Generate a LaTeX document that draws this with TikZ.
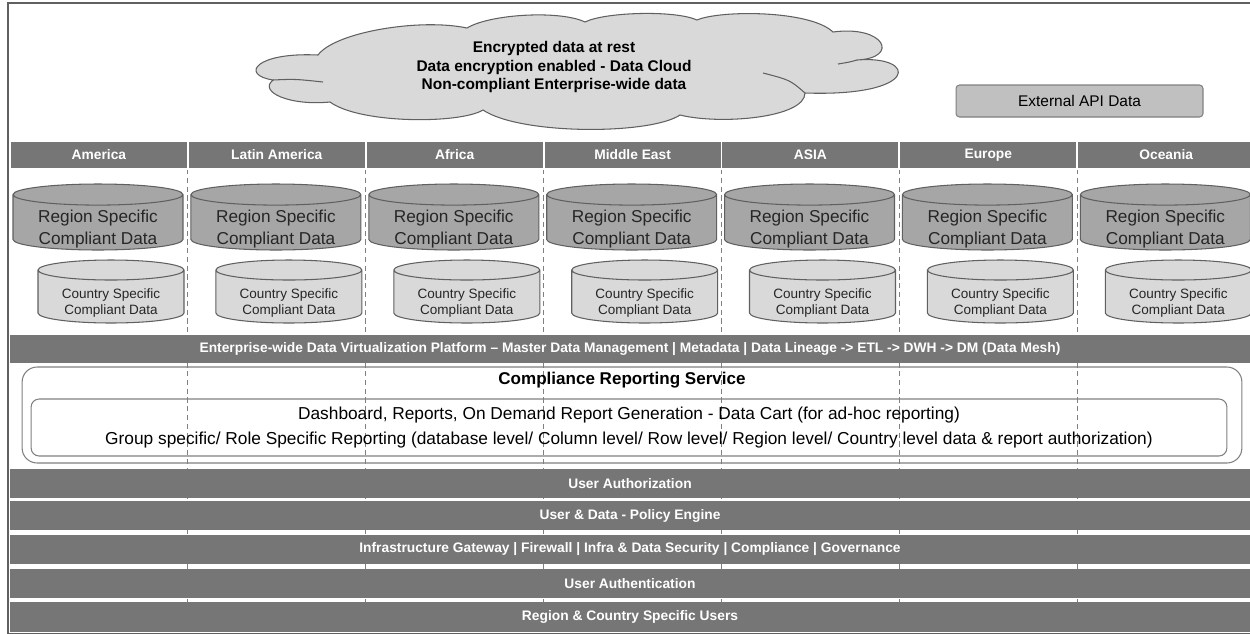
\documentclass[tikz,border=0pt]{standalone}
\usepackage{fontspec}
\setmainfont{Liberation Sans}
\usetikzlibrary{shapes.geometric}
\definecolor{bargray}{HTML}{767676}
\definecolor{reggray}{HTML}{A6A6A6}
\definecolor{ctrygray}{HTML}{D9D9D9}
\definecolor{apigray}{HTML}{C0C0C0}
\definecolor{linegray}{HTML}{606060}

\tikzset{
  hdr/.style={rectangle, fill=bargray, draw=white, line width=1pt, minimum width=3.558cm, minimum height=0.56cm, inner sep=0pt, text=white, font=\fontsize{7.85}{9}\selectfont\bfseries},
  bar/.style={rectangle, fill=bargray, minimum width=24.8cm, minimum height=0.58cm, inner sep=0pt, text=white, font=\fontsize{7.85}{9}\selectfont\bfseries},
  regdb/.style={cylinder, shape border rotate=90, aspect=0.124, anchor=shape center, draw=linegray, line width=0.6pt, fill=reggray, minimum width=3.4cm, minimum height=1.32cm, inner sep=0pt},
  ctrydb/.style={cylinder, shape border rotate=90, aspect=0.137, anchor=shape center, draw=linegray, line width=0.6pt, fill=ctrygray, minimum width=2.92cm, minimum height=1.26cm, inner sep=0pt},
  regtxt/.style={inner sep=0pt, align=center, text=black!85, font=\fontsize{9.8}{12.3}\selectfont},
  ctrytxt/.style={inner sep=0pt, align=center, text=black!85, font=\fontsize{7.7}{9.4}\selectfont},
  colsep/.style={draw=gray, dash pattern=on 3pt off 2pt, line width=0.5pt},
  rbox/.style={rectangle, draw=linegray!80, line width=0.6pt, inner sep=0pt},
  cloudline/.style={draw=linegray, line width=0.6pt}
}

\begin{document}
\begin{tikzpicture}[x=0.02cm, y=-0.02cm]
            \useasboundingbox (0,0) rectangle (1250,633);
            \draw[linegray, line width=1pt] (8,3) rectangle (1251,634);

            % Column separators
            \foreach \sx in {187.9,365.7,543.6,721.4,899.3,1077.2}
                \draw[colsep] (\sx,169) -- (\sx,602);

            % Cloud and external data
            \draw[cloudline, fill=ctrygray] (318,55)
                .. controls (335,32) and (420,18) .. (467,28)
                .. controls (490,14) and (560,10) .. (585,22)
                .. controls (605,12) and (675,10) .. (697,20)
                .. controls (720,10) and (810,10) .. (833,32)
                .. controls (885,25) and (900,58) .. (857,60)
                .. controls (918,55) and (920,97) .. (805,93)
                .. controls (805,118) and (720,125) .. (680,115)
                .. controls (650,135) and (520,135) .. (483,110)
                .. controls (460,124) and (360,124) .. (330,102)
                .. controls (290,106) and (258,92) .. (273,80)
                .. controls (240,75) and (255,52) .. (318,55) -- cycle;
            \draw[cloudline] (273,80) .. controls (295,79) .. (323,82);
            \draw[cloudline] (805,93) .. controls (790,80) .. (763,73);
            \draw[cloudline] (857,60) .. controls (850,62) .. (838,64);
            \node (cloud) [align=center, font=\fontsize{8.8}{10.8}\selectfont\bfseries] at (554,67) {Encrypted data at rest\\Data encryption enabled - Data Cloud\\Non-compliant Enterprise-wide data};
            \node (api) [rbox, rounded corners=2pt, fill=apigray, minimum width=4.94cm, minimum height=0.64cm, font=\fontsize{8.8}{10}\selectfont] at (1079.5,101) {External API Data};

            % Region headers
            \node (america) [hdr] at (98.9,155) {America};
            \node (latam) [hdr] at (276.8,155) {Latin America};
            \node (africa) [hdr] at (454.7,155) {Africa};
            \node (mideast) [hdr] at (632.6,155) {Middle East};
            \node (asia) [hdr] at (810.4,155) {ASIA};
            \node (europe) [hdr] at (988.3,155) {Europe};
            \node (oceania) [hdr] at (1166.2,155) {Oceania};

            % Region specific stores
            \node (reg1) [regdb] at (98,217) {\hspace*{3.4cm}};
            \node (reg2) [regdb] at (275.9,217) {\hspace*{3.4cm}};
            \node (reg3) [regdb] at (453.8,217) {\hspace*{3.4cm}};
            \node (reg4) [regdb] at (631.7,217) {\hspace*{3.4cm}};
            \node (reg5) [regdb] at (809.5,217) {\hspace*{3.4cm}};
            \node (reg6) [regdb] at (987.4,217) {\hspace*{3.4cm}};
            \node (reg7) [regdb] at (1165.3,217) {\hspace*{3.4cm}};
            \node (reg1t) [regtxt] at ([yshift=-0.24cm]reg1.shape center) {Region Specific\\Compliant Data};
            \node (reg2t) [regtxt] at ([yshift=-0.24cm]reg2.shape center) {Region Specific\\Compliant Data};
            \node (reg3t) [regtxt] at ([yshift=-0.24cm]reg3.shape center) {Region Specific\\Compliant Data};
            \node (reg4t) [regtxt] at ([yshift=-0.24cm]reg4.shape center) {Region Specific\\Compliant Data};
            \node (reg5t) [regtxt] at ([yshift=-0.24cm]reg5.shape center) {Region Specific\\Compliant Data};
            \node (reg6t) [regtxt] at ([yshift=-0.24cm]reg6.shape center) {Region Specific\\Compliant Data};
            \node (reg7t) [regtxt] at ([yshift=-0.24cm]reg7.shape center) {Region Specific\\Compliant Data};

            % Country specific stores
            \node (ctry1) [ctrydb] at (111,291.5) {\hspace*{2.92cm}};
            \node (ctry2) [ctrydb] at (288.9,291.5) {\hspace*{2.92cm}};
            \node (ctry3) [ctrydb] at (466.8,291.5) {\hspace*{2.92cm}};
            \node (ctry4) [ctrydb] at (644.7,291.5) {\hspace*{2.92cm}};
            \node (ctry5) [ctrydb] at (822.5,291.5) {\hspace*{2.92cm}};
            \node (ctry6) [ctrydb] at (1000.4,291.5) {\hspace*{2.92cm}};
            \node (ctry7) [ctrydb] at (1178.3,291.5) {\hspace*{2.92cm}};
            \node (ctry1t) [ctrytxt] at ([yshift=-0.23cm]ctry1.shape center) {Country Specific\\Compliant Data};
            \node (ctry2t) [ctrytxt] at ([yshift=-0.23cm]ctry2.shape center) {Country Specific\\Compliant Data};
            \node (ctry3t) [ctrytxt] at ([yshift=-0.23cm]ctry3.shape center) {Country Specific\\Compliant Data};
            \node (ctry4t) [ctrytxt] at ([yshift=-0.23cm]ctry4.shape center) {Country Specific\\Compliant Data};
            \node (ctry5t) [ctrytxt] at ([yshift=-0.23cm]ctry5.shape center) {Country Specific\\Compliant Data};
            \node (ctry6t) [ctrytxt] at ([yshift=-0.23cm]ctry6.shape center) {Country Specific\\Compliant Data};
            \node (ctry7t) [ctrytxt] at ([yshift=-0.23cm]ctry7.shape center) {Country Specific\\Compliant Data};

            % Platform and reporting
            \node (edvp) [bar, minimum height=0.56cm] at (630,349) {Enterprise-wide Data Virtualization Platform -- Master Data Management | Metadata | Data Lineage -> ETL -> DWH -> DM (Data Mesh)};
            \node (crs) [rbox, rounded corners=0.3cm, minimum width=24.4cm, minimum height=1.92cm] at (632,415) {};
            \node (crstitle) [font=\fontsize{9.7}{11}\selectfont\bfseries] at (622,380) {Compliance Reporting Service};
            \node (reports) [rbox, rounded corners=0.16cm, minimum width=23.92cm, minimum height=1.14cm, align=center, font=\fontsize{9.85}{14.7}\selectfont] at (629,427.5) {Dashboard, Reports, On Demand Report Generation - Data Cart (for ad-hoc reporting)\\Group specific/ Role Specific Reporting (database level/ Column level/ Row level/ Region level/ Country level data \& report authorization)};

            % Security layers
            \node (authz) [bar] at (630,483.5) {User Authorization};
            \node (policy) [bar] at (630,515.5) {User \& Data - Policy Engine};
            \node (infra) [bar] at (630,549.5) {Infrastructure Gateway | Firewall | Infra \& Data Security | Compliance | Governance};
            \node (authn) [bar] at (630,583.5) {User Authentication};
            \node (users) [bar, minimum height=0.6cm] at (630,617) {Region \& Country Specific Users};
\end{tikzpicture}
\end{document}
